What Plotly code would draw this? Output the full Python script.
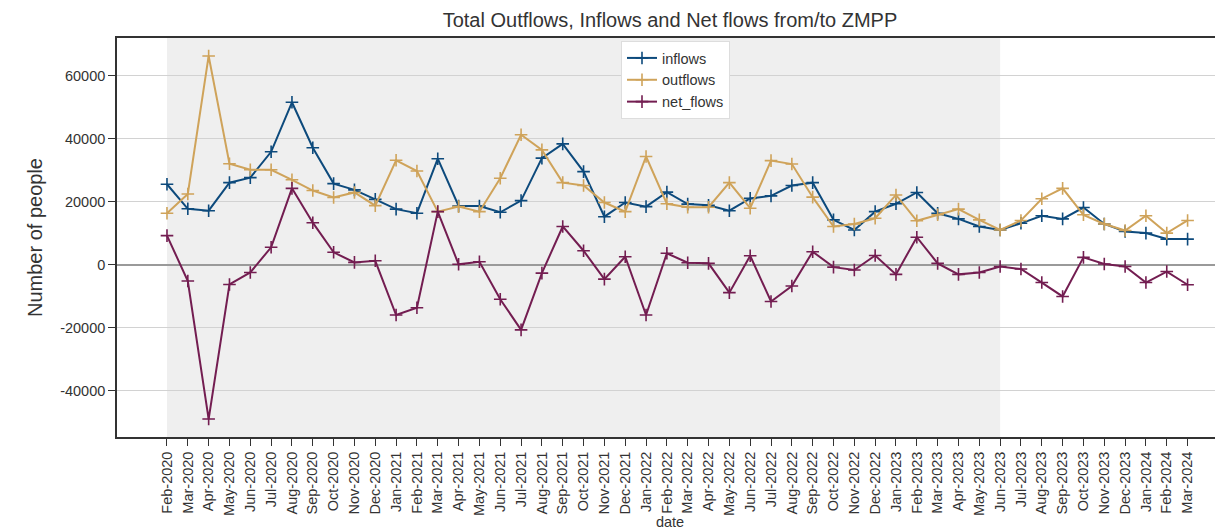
import plotly.graph_objects as go

months = ["Feb-2020", "Mar-2020", "Apr-2020", "May-2020", "Jun-2020", "Jul-2020", "Aug-2020",
          "Sep-2020", "Oct-2020", "Nov-2020", "Dec-2020", "Jan-2021", "Feb-2021", "Mar-2021",
          "Apr-2021", "May-2021", "Jun-2021", "Jul-2021", "Aug-2021", "Sep-2021", "Oct-2021",
          "Nov-2021", "Dec-2021", "Jan-2022", "Feb-2022", "Mar-2022", "Apr-2022", "May-2022",
          "Jun-2022", "Jul-2022", "Aug-2022", "Sep-2022", "Oct-2022", "Nov-2022", "Dec-2022",
          "Jan-2023", "Feb-2023", "Mar-2023", "Apr-2023", "May-2023", "Jun-2023", "Jul-2023",
          "Aug-2023", "Sep-2023", "Oct-2023", "Nov-2023", "Dec-2023", "Jan-2024", "Feb-2024",
          "Mar-2024"]

inflows = [25600, 17800, 17200, 26100, 27700, 35900, 51600, 37200, 25800, 23800, 20800, 17700, 16400,
           33700, 18700, 18700, 16700, 20400, 33900, 38400, 29600, 15300, 19800, 18500, 23100, 19300,
           18900, 17200, 21100, 21900, 25200, 26100,
           14300, 11100, 16900, 19400, 23000, 16400, 14600, 12200, 11100, 13200, 15600, 14600, 18200,
           13000, 10600, 10100, 8200, 8200]

outflows = [16400, 22500, 66300, 32100, 30200, 30200, 27000, 23600, 21400, 23000, 18800, 33200, 29800,
            16900, 18500, 16900, 27500, 41300, 36500, 26100, 25200, 19800, 16900, 34400, 19400, 18300,
            18300, 26100, 18000, 33100, 32000, 21500,
            12200, 13000, 14800, 22200, 14000, 15900, 17700, 14300, 11100, 14100, 21000, 24300, 15900,
            13000, 10900, 15600, 10100, 14100]

net_flows = [9300, -5100, -48900, -6200, -2400, 5600, 24300, 13400, 4000, 800, 1300, -15900, -13600,
             16900, 200, 1000, -10900, -20600, -2600, 12200, 4500, -4500, 2600, -15900, 3700, 700,
             500, -8800, 2900, -11600, -6700, 4200,
             -700, -1600, 3000, -3000, 8800, 500, -3000, -2400, -500, -1300, -5600, -10000, 2400,
             300, -500, -5600, -2100, -6300]

shade_start = "Feb-2020"
shade_end = "Jun-2023"

y_ticks = [-40000, -20000, 0, 20000, 40000, 60000]

series = [
    ("inflows", inflows, "#0d4a7c"),
    ("outflows", outflows, "#cfa35a"),
    ("net_flows", net_flows, "#731d51"),
]

FONT = "Liberation Sans, Arial, sans-serif"
OFF = 8  # page body margin
W, H = 1223, 530
L, T, B = 117 - OFF, 38 - OFF, 93 + OFF
R = OFF

fig = go.Figure()
for name, vals, col in series:
    fig.add_trace(go.Scatter(
        x=months, y=vals, name=name, mode="lines+markers",
        line=dict(color=col, width=2),
        marker=dict(symbol="cross-thin", size=9, line=dict(color=col, width=1.6)),
    ))

fig.add_shape(type="rect", xref="x", yref="paper", x0=shade_start, x1=shade_end,
              y0=0, y1=1, fillcolor="#efefef", line=dict(width=0), layer="below")

plot_w = W - L - R
plot_h = H - T - B

fig.update_layout(
    width=W, height=H,
    margin=dict(l=L, r=R, t=T, b=B, autoexpand=False),
    paper_bgcolor="white", plot_bgcolor="white",
    font=dict(family=FONT, color="#333333", size=14),
    title=dict(text="Total Outflows, Inflows and Net flows from/to ZMPP",
               x=(670 - OFF) / W, xanchor="center",
               y=1 - (20 - OFF) / H, yanchor="middle", yref="container",
               font=dict(size=20, color="#333333", family=FONT)),
    legend=dict(x=(621 - 117) / plot_w, y=(437 - 41) / plot_h, xanchor="left", yanchor="top",
                bgcolor="white", bordercolor="#dddddd", borderwidth=1,
                font=dict(size=14.5, color="#333333", family=FONT), tracegroupgap=0),
    showlegend=True,
)

fig.update_xaxes(
    type="category", range=[-2.4, 50.7],
    tickangle=-90, ticks="outside", ticklen=7, tickwidth=1.2, tickcolor="#333333",
    showline=True, linecolor="#333333", linewidth=1.6, mirror=True,
    showgrid=False, zeroline=False, automargin=False,
    tickfont=dict(size=14.5, color="#333333", family=FONT),
    title=dict(text="date", font=dict(size=14.5, color="#333333", family=FONT), standoff=2),
)
fig.update_yaxes(
    range=[-54600, 72000], tickvals=y_ticks, ticktext=[str(v) for v in y_ticks],
    ticks="outside", ticklen=7, tickwidth=1.2, tickcolor="#333333",
    showline=True, linecolor="#333333", linewidth=1.6, mirror=False,
    showgrid=True, gridcolor="#d2d2d2", gridwidth=1,
    zeroline=True, zerolinecolor="#9a9a9a", zerolinewidth=2.2, automargin=False,
    tickfont=dict(size=14.5, color="#333333", family=FONT),
    title=dict(text="Number of people", font=dict(size=20, color="#333333", family=FONT), standoff=12),
)

fig.write_html("out.html")
